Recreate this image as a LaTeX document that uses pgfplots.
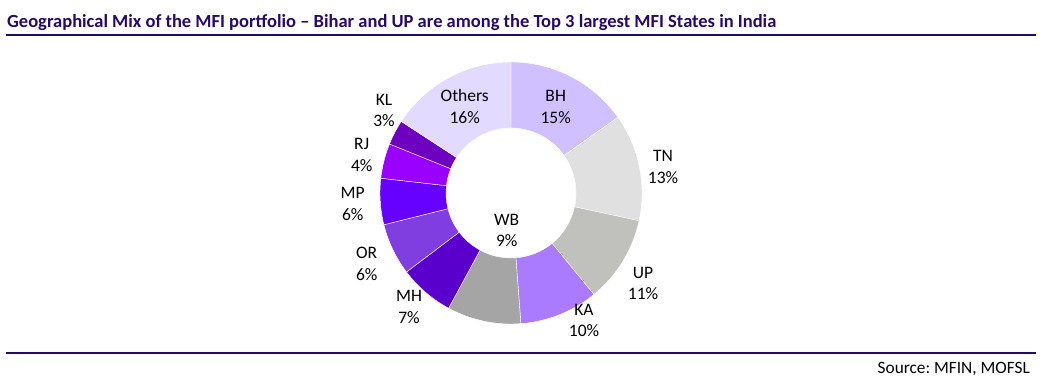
\documentclass[border=0pt]{standalone}
\usepackage{fontspec}
\setmainfont{Carlito}
\usepackage{pgfplots}
\pgfplotsset{compat=1.18}
\usepackage{pgfplotstable}
\frenchspacing

\definecolor{ttl}{RGB}{40,8,104}
\definecolor{cBH}{RGB}{208,192,255}
\definecolor{cTN}{RGB}{224,224,224}
\definecolor{cUP}{RGB}{192,192,188}
\definecolor{cKA}{RGB}{170,122,255}
\definecolor{cWB}{RGB}{166,165,166}
\definecolor{cMH}{RGB}{90,0,204}
\definecolor{cOR}{RGB}{128,62,224}
\definecolor{cMP}{RGB}{102,0,255}
\definecolor{cRJ}{RGB}{153,0,255}
\definecolor{cKL}{RGB}{110,0,192}
\definecolor{cOT}{RGB}{226,218,255}

% state, share (%), rounded label, colour, label position (first baseline)
\pgfplotstableread{
state  pct   lab col  lx      ly
BH     15.2  15  cBH  44.7    91.5
TN     13.2  13  cTN  152     31.3
UP     10.7  11  cUP  132    -85
KA     9.7   10  cKA  73     -122
WB     9.1   9   cWB  -4.3   -32
MH     6.8   7   cMH  -102   -108.7
OR     6.4   6   cOR  -144.3 -65.3
MP     5.7   6   cMP  -158.3 -5.3
RJ     4.3   4   cRJ  -149.3  43.7
KL     3.1   3   cKL  -127    88
Others 15.8  16  cOT  -46.3   91.5
}\mixtable

\begin{document}
\begin{tikzpicture}
\path[use as bounding box] (0,0) rectangle (1052pt,-386pt);
\node[anchor=base west, inner sep=0, text=ttl, font=\bfseries\fontsize{18.5}{22}\selectfont] at (7pt,-27pt)
  {Geographical Mix of the MFI portfolio – Bihar and UP are among the Top 3 largest MFI States in India};
\draw[ttl, line width=1.5pt] (6pt,-35pt) -- (1036pt,-35pt);
\draw[ttl, line width=1.5pt] (6pt,-353pt) -- (1036pt,-353pt);
\node[anchor=base east, inner sep=0, font=\fontsize{17.3}{20}\selectfont] at (1030pt,-373pt) {Source: MFIN, MOFSL};

\begin{axis}[
  at={(511pt,-193pt)}, anchor=origin,
  scale only axis, width=262pt, height=262pt,
  xmin=-131, xmax=131, ymin=-131, ymax=131,
  hide axis, clip=false,
]
\def\Ro{131}\def\Ri{65}
\def\cum{0}
\pgfplotsforeachungrouped \i in {0,...,10}{%
  \pgfplotstablegetelem{\i}{pct}\of\mixtable \let\p\pgfplotsretval
  \pgfplotstablegetelem{\i}{col}\of\mixtable \let\c\pgfplotsretval
  \pgfplotstablegetelem{\i}{state}\of\mixtable \let\st\pgfplotsretval
  \pgfplotstablegetelem{\i}{lab}\of\mixtable \let\lab\pgfplotsretval
  \pgfplotstablegetelem{\i}{lx}\of\mixtable \let\lx\pgfplotsretval
  \pgfplotstablegetelem{\i}{ly}\of\mixtable \let\ly\pgfplotsretval
  \pgfmathsetmacro\aA{90-3.6*\cum}%
  \pgfmathsetmacro\aB{90-3.6*(\cum+\p)}%
  \pgfmathsetmacro\xA{\Ro*cos(\aA)}\pgfmathsetmacro\yA{\Ro*sin(\aA)}%
  \pgfmathsetmacro\xB{\Ri*cos(\aB)}\pgfmathsetmacro\yB{\Ri*sin(\aB)}%
  \pgfmathsetmacro\lyb{\ly-21.8}%
  \edef\cmd{%
    \noexpand\fill[fill=\c, draw=white, line width=0.4pt]
      (axis cs:\xA,\yA) arc[start angle=\aA, end angle=\aB, radius=\Ro]
      -- (axis cs:\xB,\yB) arc[start angle=\aB, end angle=\aA, radius=\Ri] -- cycle;
    \noexpand\node[anchor=base, inner sep=0, font=\noexpand\fontsize{17.5}{20}\noexpand\selectfont] at (axis cs:\lx,\ly) {\st};
    \noexpand\node[anchor=base, inner sep=0, font=\noexpand\fontsize{17.5}{20}\noexpand\selectfont] at (axis cs:\lx,\lyb) {\lab\noexpand\%};
  }\cmd
  \pgfmathsetmacro\cum{\cum+\p}%
}
\end{axis}
\end{tikzpicture}
\end{document}
